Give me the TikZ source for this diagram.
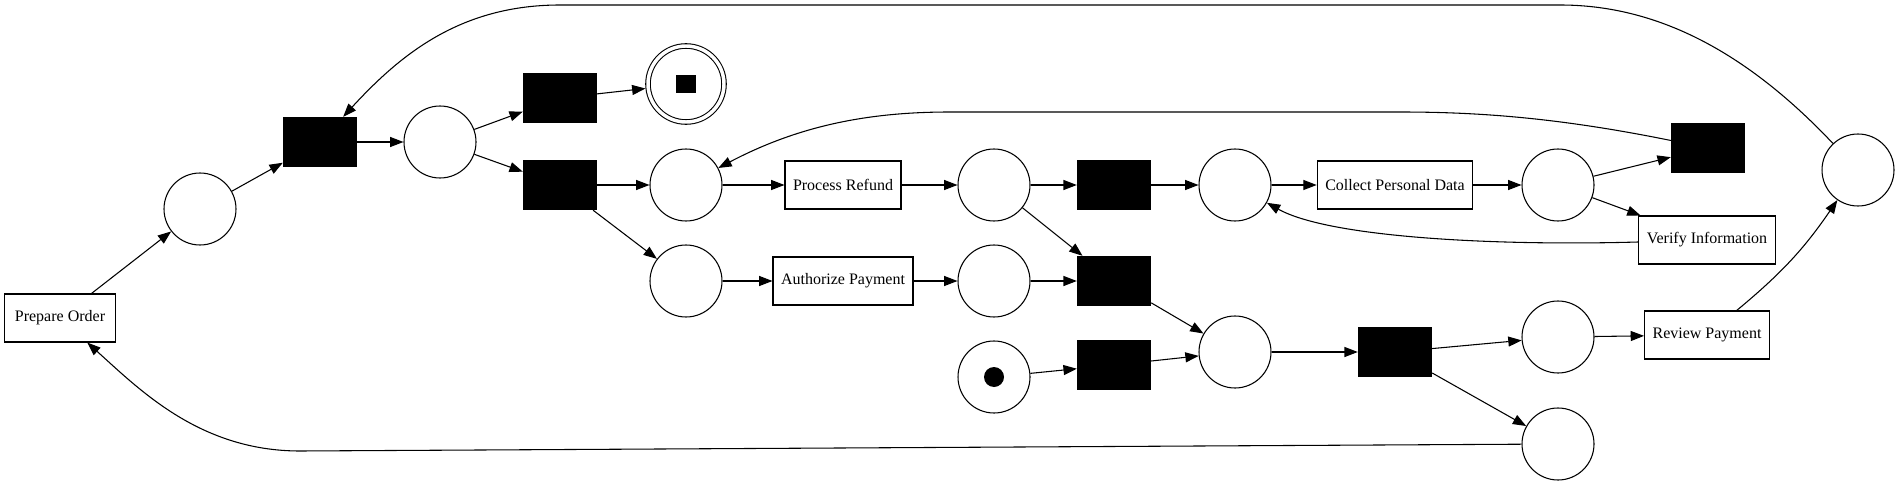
\documentclass[tikz,border=0pt]{standalone}
\usepackage{fontspec}
\setmainfont{Liberation Serif}
\usetikzlibrary{arrows.meta,positioning,calc}

\begin{document}
\begin{tikzpicture}[x=0.75pt, y=-0.75pt, line width=0.8pt,
		place/.style={draw, circle, minimum size=54pt, inner sep=0pt},
		source/.style={place, path picture={\fill (path picture bounding box.center) circle (7.5pt);}},
		sink/.style={place, double, double distance=2.6pt, minimum size=57pt, outer sep=2.1pt,
			path picture={\fill ([shift={(-7.5pt,-7pt)}]path picture bounding box.center) rectangle ++(15pt,14pt);}},
		trans/.style={rectangle, fill=black, minimum width=55pt, minimum height=37pt, inner sep=0pt},
		task/.style={draw, rectangle, minimum width=83pt, minimum height=36pt, inner xsep=6pt, font=\fontsize{12}{14}\selectfont},
		arc/.style={-{Triangle[length=10pt, width=7.5pt]}}]
				\useasboundingbox (0,0) rectangle (1899,485);
				
				% Places, transitions and tasks
				\node[task] (prepare) at (60,318) {Prepare Order};
				\node[place] (p1) at (200,209) {};
				\node[trans] (t1) at (320,142) {};
				\node[place] (p2) at (440,142) {};
				\node[trans] (t2) at (560,98) {};
				\node[sink] (end) at (686,84) {};
				\node[trans] (t3) at (560,185) {};
				\node[place] (p3) at (686,185) {};
				\node[place] (p4) at (686,281) {};
				\node[task] (refund) at (843,185) {Process Refund};
				\node[task] (authorize) at (843,281) {Authorize Payment};
				\node[place] (p5) at (994,185) {};
				\node[place] (p6) at (994,281) {};
				\node[source] (start) at (994,377) {};
				\node[trans] (t4) at (1114,185) {};
				\node[trans] (t5) at (1114,281) {};
				\node[trans] (t6) at (1114,365) {};
				\node[place] (p7) at (1235,185) {};
				\node[place] (p8) at (1235,352) {};
				\node[task] (collect) at (1395,185) {Collect Personal Data};
				\node[trans] (t8) at (1395,352) {};
				\node[place] (p9) at (1558,185) {};
				\node[trans] (t7) at (1708,148) {};
				\node[task] (verify) at (1707,240) {Verify Information};
				\node[place] (p10) at (1558,337) {};
				\node[task] (review) at (1707,335) {Review Payment};
				\node[place] (p11) at (1558,444) {};
				\node[place] (p12) at (1858,170) {};
				
				% Straight arcs
				\draw[arc] (prepare) -- (p1);
				\draw[arc] (p1) -- (t1);
				\draw[arc] (t1) -- (p2);
				\draw[arc] (p2) -- (t2);
				\draw[arc] (p2) -- (t3);
				\draw[arc] (t2) -- (end);
				\draw[arc] (t3) -- (p3);
				\draw[arc] (t3) -- (p4);
				\draw[arc] (p3) -- (refund);
				\draw[arc] (refund) -- (p5);
				\draw[arc] (p4) -- (authorize);
				\draw[arc] (authorize) -- (p6);
				\draw[arc] (p5) -- (t4);
				\draw[arc] (p5) -- (t5);
				\draw[arc] (p6) -- (t5);
				\draw[arc] (start) -- (t6);
				\draw[arc] (t4) -- (p7);
				\draw[arc] (t5) -- (p8);
				\draw[arc] (t6) -- (p8);
				\draw[arc] (p7) -- (collect);
				\draw[arc] (collect) -- (p9);
				\draw[arc] (p9) -- (t7);
				\draw[arc] (p9) -- (verify);
				\draw[arc] (p8) -- (t8);
				\draw[arc] (t8) -- (p10);
				\draw[arc] (t8) -- (p11);
				\draw[arc] (p10) -- (review);
				\draw[arc] (review) to[bend right=8] (p12);
				
				% Loops back
				\draw[arc] (p12) .. controls (1740,45) and (1650,5) .. (1560,5) -- (560,5) .. controls (460,5) and (400,55) .. (t1);
				\draw[arc] (t7) .. controls (1560,118) and (1480,112) .. (1400,112) -- (950,112) .. controls (870,112) and (800,125) .. (p3);
				\draw[arc] (verify) .. controls (1500,246) and (1330,238) .. (p7);
				\draw[arc] (p11) -- (300,451) .. controls (200,451) and (140,390) .. (prepare);
			\end{tikzpicture}
\end{document}
